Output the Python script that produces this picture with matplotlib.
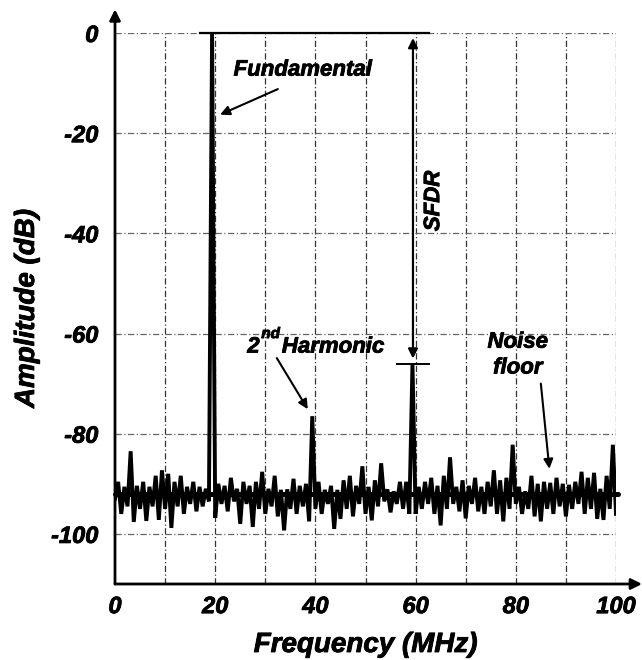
import numpy as np
import matplotlib
matplotlib.use("Agg")
import matplotlib.pyplot as plt
import matplotlib.patheffects as pe

# ---------------- data ----------------
bin_width_mhz = 0.625
# spectrum values at odd bins (1, 3, ..., 159) -- upward excursions / tones
odd_bins_db = [
    -89.6, -90.6, -83.5, -90.4, -89.6, -90.6, -88.4, -87.3, -88.0, -89.6,
    -88.4, -90.6, -89.6, -90.6, -91.0, 0.0, -90.0, -90.4, -88.8, -91.0,
    -89.6, -90.4, -89.6, -87.6, -91.0, -88.4, -91.2, -91.1, -89.0, -90.4,
    -90.0, -76.5, -89.6, -91.2, -90.4, -91.2, -89.3, -88.4, -90.4, -86.5,
    -90.6, -89.3, -85.9, -91.1, -91.5, -89.6, -89.6, -66.0, -90.6, -89.6,
    -88.8, -90.4, -88.4, -84.7, -90.6, -89.3, -90.4, -88.8, -90.6, -89.6,
    -87.3, -89.3, -88.8, -82.2, -90.6, -91.5, -88.4, -90.0, -89.6, -89.8,
    -88.8, -90.0, -90.2, -89.6, -87.6, -88.8, -87.8, -91.0, -88.4, -82.2,
]
# spectrum values at even bins (0, 2, ..., 160) -- downward excursions
even_bins_db = [
    -93.0, -96.0, -94.5, -97.6, -95.0, -97.4, -94.5, -97.2, -95.0, -98.8,
    -94.5, -96.0, -94.0, -95.5, -94.5, -93.5, -96.8, -94.0, -95.5, -93.5,
    -98.0, -94.0, -98.6, -95.0, -96.0, -94.5, -96.5, -99.3, -95.0, -96.0,
    -94.5, -97.5, -95.0, -96.0, -94.0, -99.0, -97.0, -95.0, -96.5, -94.0,
    -96.0, -97.3, -94.5, -93.5, -95.7, -94.0, -95.0, -96.0, -96.0, -95.0,
    -94.0, -96.0, -98.3, -95.0, -94.0, -95.5, -96.9, -94.0, -95.5, -96.0,
    -94.5, -96.0, -97.5, -95.0, -94.0, -96.0, -95.0, -96.5, -97.5, -95.0,
    -96.0, -94.5, -96.5, -95.0, -94.0, -96.0, -95.0, -97.0, -97.2, -95.0,
    -96.0,
]
noise_floor_db = -92.0
sfdr_level_db = -66.0
x_ticks = [0, 20, 40, 60, 80, 100]
y_ticks = [0, -20, -40, -60, -80, -100]

n_bins = len(odd_bins_db) + len(even_bins_db)
amplitude_db = np.empty(n_bins)
amplitude_db[0::2] = even_bins_db
amplitude_db[1::2] = odd_bins_db
freq_mhz = np.arange(n_bins) * bin_width_mhz

fund_idx = int(np.argmax(amplitude_db))
spur_idx = 95
harm_idx = 63
fund_f = freq_mhz[fund_idx]
spur_f = freq_mhz[spur_idx]
harm_f = freq_mhz[harm_idx]

# ---------------- figure ----------------
FONT = "Liberation Sans"
heavy = [pe.withStroke(linewidth=0.6, foreground="black")]
fig = plt.figure(figsize=(6.42, 6.60), dpi=100)
ax = fig.add_axes([115 / 642, 1 - 584 / 660, 501 / 642, 551 / 660])
ax.set_xlim(0, 100)
ax.set_ylim(-110, 0)

# grid
for xv in np.arange(10, 101, 10):
    ax.axvline(xv, color="#333333", lw=0.9, ls=(0, (5, 2, 1, 2)), zorder=1)
for yv in y_ticks:
    ax.axhline(yv, color="#666666", lw=0.9, ls=(0, (5, 2, 1, 2)), zorder=1)

# spectrum
ax.axhline(noise_floor_db, xmin=0, xmax=1.004, color="black", lw=3.6,
           solid_capstyle="round", zorder=3, clip_on=False)
ax.plot(freq_mhz, amplitude_db, color="black", lw=2.8, zorder=4,
        solid_joinstyle="miter")

# SFDR reference lines
ax.plot([17.0, 62.7], [0, 0], color="black", lw=1.6, zorder=5, clip_on=False)
ax.plot([56.3, 62.7], [sfdr_level_db, sfdr_level_db], color="black", lw=1.4, zorder=5)
ax.annotate("", xy=(spur_f + 0.1, -1.0), xytext=(spur_f + 0.1, sfdr_level_db + 1.0),
            arrowprops=dict(arrowstyle="<|-|>", color="black", lw=1.6,
                            mutation_scale=14, shrinkA=0, shrinkB=0), zorder=6)

txt = dict(fontfamily=FONT, fontweight="bold", fontstyle="italic", color="black",
           path_effects=heavy)

ax.text(63.6, -33.5, "SFDR", rotation=90, ha="center", va="center", fontsize=16, **txt)

ax.text(37.5, -7.4, "Fundamental", ha="center", va="center", fontsize=16, **txt)
ax.annotate("", xy=(fund_f + 1.6, -16.3), xytext=(32.5, -11.2),
            arrowprops=dict(arrowstyle="-|>", color="black", lw=1.5,
                            mutation_scale=14, shrinkA=0, shrinkB=0))

ax.text(26.4, -63.8, "2", ha="left", va="baseline", fontsize=16, **txt)
ax.text(29.2, -60.9, "nd", ha="left", va="baseline", fontsize=11, **txt)
ax.text(33.3, -63.8, "Harmonic", ha="left", va="baseline", fontsize=16, **txt)
ax.annotate("", xy=(harm_f - 0.9, -75.1), xytext=(32.3, -64.9),
            arrowprops=dict(arrowstyle="-|>", color="black", lw=1.5,
                            mutation_scale=14, shrinkA=0, shrinkB=0))

ax.text(80.4, -64.3, "Noise\nfloor", ha="center", va="center", fontsize=16,
        linespacing=1.3, **txt)
ax.annotate("", xy=(86.7, -87.0), xytext=(85.0, -70.0),
            arrowprops=dict(arrowstyle="-|>", color="black", lw=1.5,
                            mutation_scale=14, shrinkA=0, shrinkB=0))

# axes with arrows
for s in ax.spines.values():
    s.set_visible(False)
ax.annotate("", xy=(0, 1.043), xytext=(0, 0), xycoords="axes fraction",
            arrowprops=dict(arrowstyle="-|>", color="black", lw=2.0,
                            mutation_scale=16, shrinkA=0, shrinkB=0),
            annotation_clip=False, zorder=7)
ax.annotate("", xy=(1.052, 0), xytext=(0, 0), xycoords="axes fraction",
            arrowprops=dict(arrowstyle="-|>", color="black", lw=2.0,
                            mutation_scale=16, shrinkA=0, shrinkB=0),
            annotation_clip=False, zorder=7)

ax.set_xticks(x_ticks)
ax.set_yticks(y_ticks)
ax.set_xticklabels([str(v) for v in x_ticks])
ax.set_yticklabels([str(v) for v in y_ticks])
ax.tick_params(axis="x", length=0, pad=8)
ax.tick_params(axis="y", length=0, pad=12)
for lab in ax.get_xticklabels() + ax.get_yticklabels():
    lab.set_fontfamily(FONT)
    lab.set_fontweight("bold")
    lab.set_fontstyle("italic")
    lab.set_fontsize(17)
    lab.set_path_effects(heavy)

ax.set_xlabel("Frequency (MHz)", fontsize=20, labelpad=10, **txt)
ax.set_ylabel("Amplitude (dB)", fontsize=20, labelpad=8, **txt)

fig.savefig("out.png", dpi=100)
